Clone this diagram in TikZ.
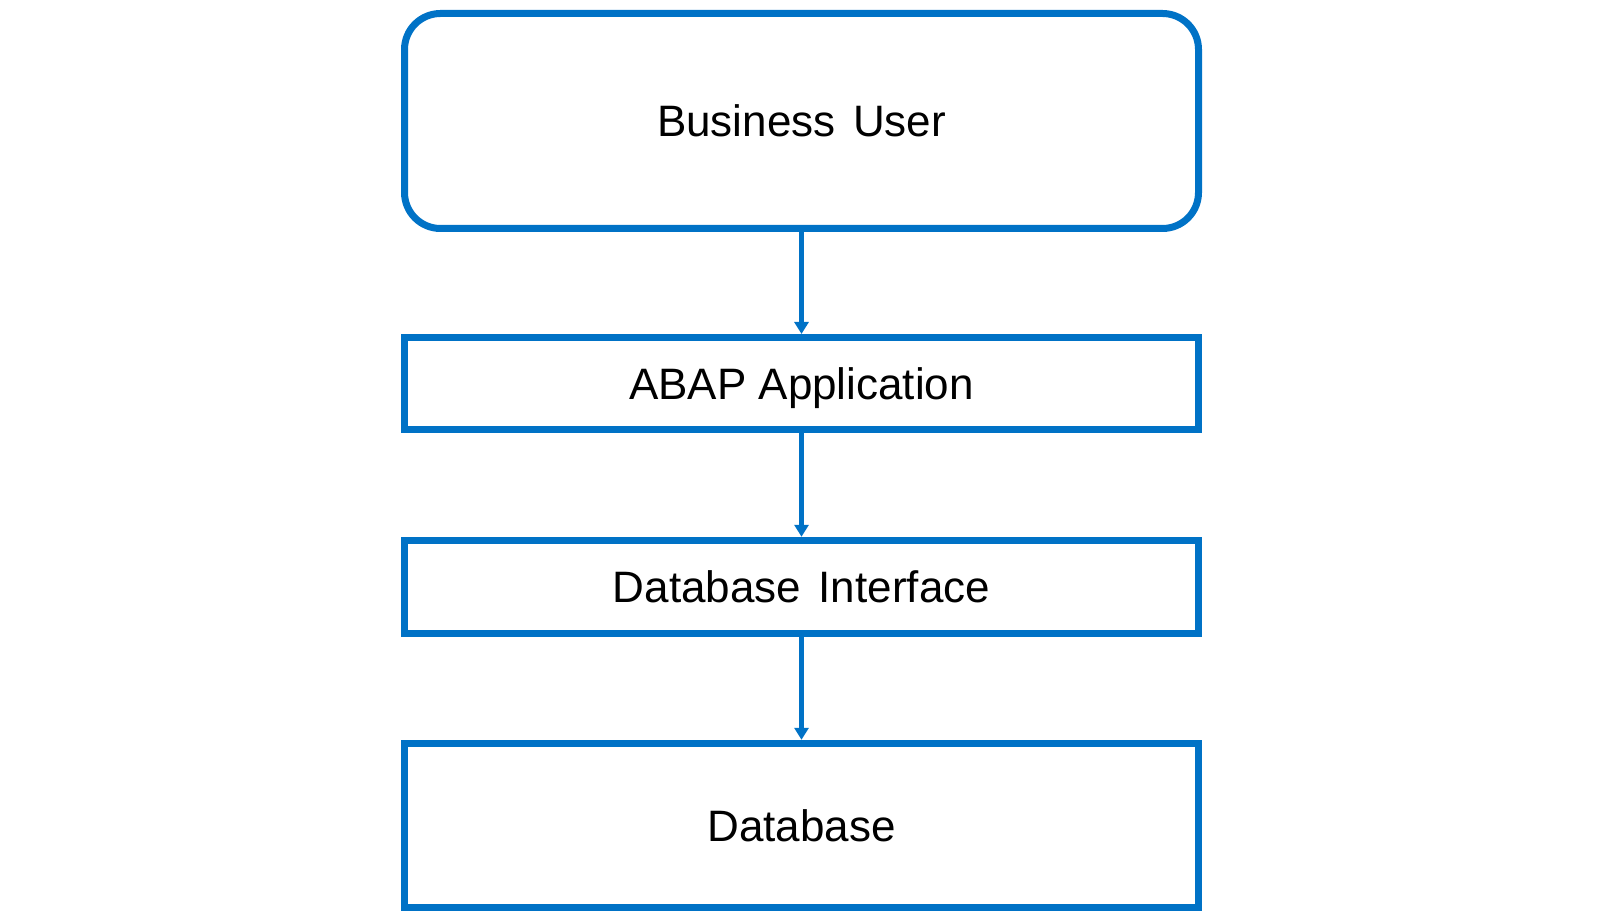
\documentclass[tikz,border=0pt]{standalone}
\usepackage{fontspec}
\setmainfont{Liberation Sans}
\usetikzlibrary{arrows.meta}
\definecolor{sapblue}{RGB}{0,114,198}
\begin{document}
\begin{tikzpicture}[x=1pt,y=1pt,
  box/.style={draw=sapblue, line width=7pt, minimum width=794pt, inner sep=0pt,
    text height=31.5pt, text depth=0pt, font=\fontsize{44}{52}\selectfont},
  conn/.style={draw=sapblue, line width=5pt, -{Triangle[length=12pt,width=14pt]}}]
\useasboundingbox (0,0) rectangle (1600,921);
\node[box, rounded corners=36pt, minimum height=215pt] (bu) at (801.5,800) {Business\hspace{0.12em} User};
\node[box, minimum height=92.5pt] (abap) at (801.5,537.25) {ABAP Application};
\node[box, minimum height=93pt] (dbi) at (801.5,334.2) {Database\hspace{0.12em} Interface};
\node[box, minimum height=164.2pt] (db) at (801.5,95.6) {Database};
\draw[conn] (bu.south) -- (abap.north);
\draw[conn] (abap.south) -- (dbi.north);
\draw[conn] (dbi.south) -- (db.north);
\end{tikzpicture}
\end{document}
